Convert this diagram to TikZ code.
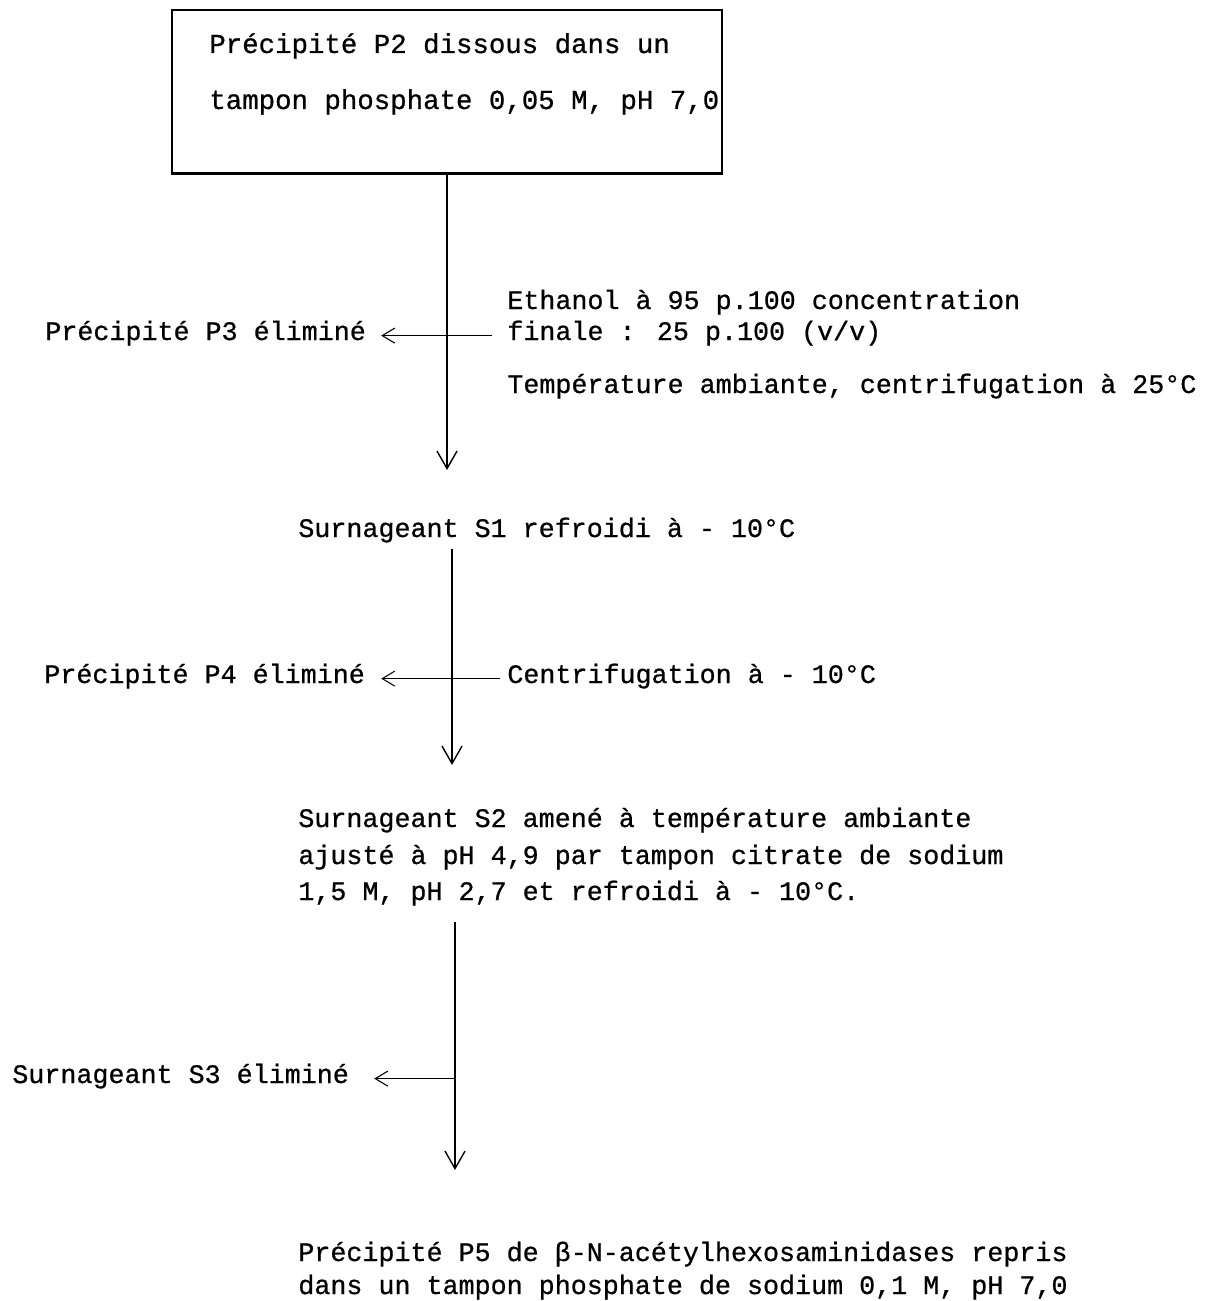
\documentclass[tikz,border=0pt]{standalone}
\usepackage{fontspec}
\newfontfamily\machine[FakeBold=0.7]{Liberation Mono}
\usetikzlibrary{positioning, arrows.meta}
\tikzset{
  etape/.style = {font=\machine\fontsize{15.2}{19}\selectfont, inner sep=0pt,
                  text height=0.75em, text depth=0.25em, anchor=base west},
  cadre/.style = {rectangle, draw, thick, minimum width=11cm, minimum height=3.26cm},
  fl/.style    = {-{Straight Barb[length=3.5mm,width=4mm]}, thick},
  rej/.style   = {-{Straight Barb[length=2.5mm,width=3mm]}, semithick},
}
\begin{document}
\begin{tikzpicture}[x=0.02cm, y=-0.02cm]
  \useasboundingbox (0,0) rectangle (1209,1301);

  % depart
  \node[cadre] (p2) at (447,91.5) {};
  \draw[line width=1.6pt] (p2.south west) -- (p2.south east);
  \node[etape, font=\machine\fontsize{15.6}{19}\selectfont] (p2a) at (209,53) {Précipité P2 dissous dans un};
  \node[etape, font=\machine\fontsize{15.6}{19}\selectfont] (p2b) at (209,109) {tampon phosphate 0,05 M, pH 7,0};

  % ethanol
  \node[etape] (eth1) at (507,309) {Ethanol à 95 p.100 concentration};
  \node[etape] (eth2) at (507,340) {finale : 25 p.100 (v/v)};
  \node[etape] (eth3) at (507,393) {Température ambiante, centrifugation à 25°C};
  \node[etape] (p3) at (45,340) {Précipité P3 éliminé};
  \node[etape] (s1) at (298,537) {Surnageant S1 refroidi à - 10°C};

  % froid
  \node[etape] (p4) at (44,683) {Précipité P4 éliminé};
  \node[etape] (cent) at (507,683) {Centrifugation à - 10°C};
  \node[etape] (s2a) at (298,827) {Surnageant S2 amené à température ambiante};
  \node[etape] (s2b) at (298,864) {ajusté à pH 4,9 par tampon citrate de sodium};
  \node[etape] (s2c) at (298,900) {1,5 M, pH 2,7 et refroidi à - 10°C.};

  % citrate
  \node[etape] (s3) at (12,1083) {Surnageant S3 éliminé};
  \node[etape] (p5a) at (298,1261) {Précipité P5 de β-N-acétylhexosaminidases repris};
  \node[etape] (p5b) at (298,1294) {dans un tampon phosphate de sodium 0,1 M, pH 7,0};

  \coordinate (t1) at (447,470);
  \coordinate (t2) at (452,765);
  \coordinate (t3) at (455,1170);

  \draw[fl] (p2.south) -- (t1);
  \draw[rej] ([xshift=-0.3cm]eth2.west) -- ([xshift=0.3cm]p3.east);
  \draw[fl, shorten <=4pt] (s1.south -| t2) -- (t2);
  \draw[rej] ([xshift=-0.15cm]cent.west) -- ([xshift=0.32cm]p4.east);
  \draw[fl, shorten <=0.35cm] (s2c.south -| t3) -- (t3);
  \draw[rej] (s3.east -| t3) -- ([xshift=0.5cm]s3.east);

\end{tikzpicture}
\end{document}
